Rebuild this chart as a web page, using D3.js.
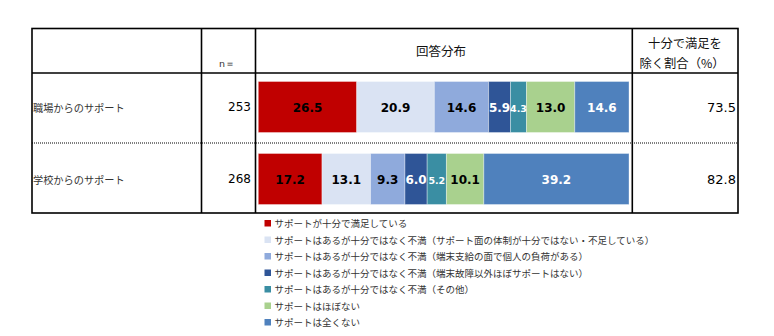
<!DOCTYPE html>
<html>
<head>
<meta charset="utf-8">
<script src="https://cdn.jsdelivr.net/npm/d3@7"></script>
<style>
  html, body { margin: 0; padding: 0; background: #fff; }
  svg { display: block; }
</style>
</head>
<body>
<svg id="chart" width="774" height="336"></svg>
<script>
// Rows of the table
const rows = ["職場からのサポート", "学校からのサポート"];
const nValues = [253, 268];
const excludeSatisfied = [73.5, 82.8];

// Response categories (stack order) and colours
const categories = [
  "サポートが十分で満足している",
  "サポートはあるが十分ではなく不満（サポート面の体制が十分ではない・不足している）",
  "サポートはあるが十分ではなく不満（端末支給の面で個人の負荷がある）",
  "サポートはあるが十分ではなく不満（端末故障以外ほぼサポートはない）",
  "サポートはあるが十分ではなく不満（その他）",
  "サポートはほぼない",
  "サポートは全くない"
];
const colors = ["#C00000", "#DAE3F3", "#8FAADC", "#2F5597", "#3A8EA3", "#A9D18E", "#4F81BD"];
const labelColors = ["#000", "#000", "#000", "#fff", "#fff", "#000", "#fff"];

// Percent values per row, in category order
const workplace = [26.5, 20.9, 14.6, 5.9, 4.3, 13.0, 14.6];
const school = [17.2, 13.1, 9.3, 6.0, 5.2, 10.1, 39.2];
const series = [workplace, school];

const svg = d3.select("#chart");
const JP = "'Noto Sans CJK JP', 'Noto Sans', sans-serif";
const NUM = "'DejaVu Sans', Verdana, sans-serif";

// Table geometry
const tLeft = 32, tRight = 738, tTop = 28.5, tHead = 73, tBottom = 213;
const colN = 201.5, colBar = 255.5, colPct = 632.3;

const y = d3.scaleBand().domain(rows).range([71, 215]);
const barH = 51;

// Grid lines
const g = svg.append("g").attr("stroke", "#000").attr("stroke-width", 1.6).attr("fill", "none");
g.append("rect").attr("x", tLeft).attr("y", tTop).attr("width", tRight - tLeft).attr("height", tBottom - tTop);
g.append("line").attr("x1", tLeft).attr("x2", tRight).attr("y1", tHead).attr("y2", tHead);
[colN, colBar, colPct].forEach(x =>
  g.append("line").attr("x1", x).attr("x2", x).attr("y1", tTop).attr("y2", tBottom));
svg.append("line")
  .attr("x1", tLeft).attr("x2", tRight).attr("y1", 143).attr("y2", 143)
  .attr("stroke", "#000").attr("stroke-width", 1).attr("stroke-dasharray", "1,1");

// Header text
svg.append("text").attr("x", 227).attr("y", 63).attr("text-anchor", "middle")
  .attr("dominant-baseline", "central").attr("font-family", NUM).attr("font-size", 9.5)
  .attr("fill", "#333").text("n＝");
svg.append("text").attr("x", 441).attr("y", 50).attr("text-anchor", "middle")
  .attr("dominant-baseline", "central").attr("font-family", JP).attr("font-size", 12.5)
  .attr("fill", "#111").text("回答分布");
svg.append("text").attr("x", 685).attr("y", 43).attr("text-anchor", "middle")
  .attr("dominant-baseline", "central").attr("font-family", JP).attr("font-size", 12.3)
  .attr("fill", "#111").text("十分で満足を");
svg.append("text").attr("x", 682).attr("y", 63).attr("text-anchor", "middle")
  .attr("dominant-baseline", "central").attr("font-family", JP).attr("font-size", 12.3)
  .attr("fill", "#111").text("除く割合（%）");

// Row labels, n and right-hand values
rows.forEach((r, i) => {
  const cy = y(r) + y.bandwidth() / 2;
  svg.append("text").attr("x", 33).attr("y", cy).attr("dominant-baseline", "central")
    .attr("font-family", JP).attr("font-size", 10.2).attr("fill", "#333").text(r);
  svg.append("text").attr("x", 251).attr("y", cy).attr("text-anchor", "end")
    .attr("dominant-baseline", "central").attr("font-family", NUM).attr("font-size", 12)
    .attr("fill", "#000").text(nValues[i]);
  svg.append("text").attr("x", 736).attr("y", cy).attr("text-anchor", "end")
    .attr("dominant-baseline", "central").attr("font-family", NUM).attr("font-size", 13)
    .attr("fill", "#000").text(excludeSatisfied[i].toFixed(1));
});

// Stacked 100% bars
rows.forEach((r, i) => {
  const vals = series[i];
  const total = d3.sum(vals);
  const x = d3.scaleLinear().domain([0, total]).range([258.3, 629]);
  const stacked = d3.cumsum(vals);
  const by = y(r) + (y.bandwidth() - barH) / 2;
  const segs = vals.map((v, k) => ({ v, k, x0: stacked[k] - v, x1: stacked[k] }));
  const row = svg.append("g");
  row.selectAll("rect").data(segs).join("rect")
    .attr("x", d => x(d.x0)).attr("y", by)
    .attr("width", d => x(d.x1) - x(d.x0)).attr("height", barH)
    .attr("fill", d => colors[d.k])
    .attr("stroke", "#fff").attr("stroke-opacity", 0.35).attr("stroke-width", 1);
  row.selectAll("text").data(segs).join("text")
    .attr("x", d => (x(d.x0) + x(d.x1)) / 2).attr("y", by + barH / 2 + 1)
    .attr("text-anchor", "middle").attr("dominant-baseline", "central")
    .attr("font-family", NUM).attr("font-weight", "bold")
    .attr("font-size", d => d.k === 4 ? 9.5 : 12)
    .attr("fill", d => labelColors[d.k])
    .text(d => d.v.toFixed(1));
});

// Legend
const legend = svg.append("g");
categories.forEach((c, k) => {
  const ly = 223 + k * 16.5;
  legend.append("rect").attr("x", 264.5).attr("y", ly - 3).attr("width", 6.5).attr("height", 6.5)
    .attr("fill", colors[k]);
  legend.append("text").attr("x", 274.5).attr("y", ly).attr("dominant-baseline", "central")
    .attr("font-family", JP).attr("font-size", 9.5).attr("fill", "#333").text(c);
});
</script>
</body>
</html>
